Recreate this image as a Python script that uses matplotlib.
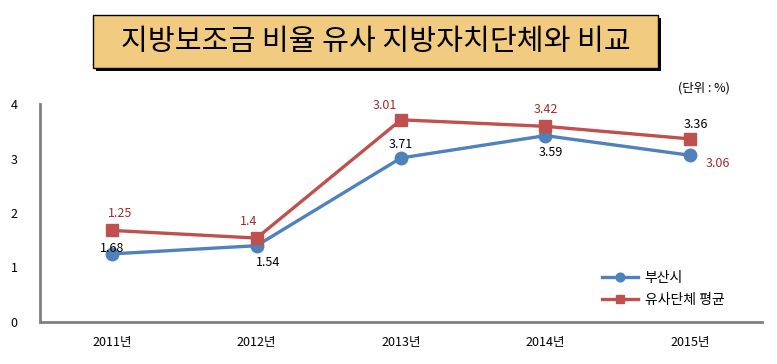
import matplotlib
matplotlib.use("Agg")
import matplotlib.pyplot as plt
from matplotlib.patches import Rectangle

plt.rcParams['font.family'] = ['Noto Sans CJK KR', 'DejaVu Sans']

# 데이터
years = ['2011년', '2012년', '2013년', '2014년', '2015년']
busan = [1.25, 1.40, 3.01, 3.42, 3.06]
similar_avg = [1.68, 1.54, 3.71, 3.59, 3.36]

# 원본 차트의 라벨 배치 (빨간 라벨은 부산시 값, 검은 라벨은 평균 값)
red_label_offsets = [(6, 12), (-6, 12), (-12, 10), (0, 12), (20, -6)]
black_label_offsets = [(0, 4), (8, -12), (0, 10), (4, -12), (4, 10)]

blue = '#4F81BD'
red = '#C0504D'

fig = plt.figure(figsize=(7.77, 3.64), dpi=100)
ax = fig.add_axes([40 / 777, 42 / 364, 722 / 777, 218 / 364])

x = list(range(len(years)))
ax.plot(x, busan, color=blue, lw=2.4, marker='o', markersize=9, label='부산시', zorder=3)
ax.plot(x, similar_avg, color=red, lw=2.4, marker='s', markersize=8, label='유사단체 평균', zorder=3)

for i in x:
    ax.annotate(f'{busan[i]:g}', (x[i], similar_avg[i]) if i < 4 else (x[i], busan[i]),
                xytext=red_label_offsets[i], textcoords='offset points',
                ha='center', va='center', fontsize=9, color='#A52A2A', zorder=4)
    ax.annotate(f'{similar_avg[i]:g}', (x[i], busan[i]) if i < 4 else (x[i], similar_avg[i]),
                xytext=black_label_offsets[i], textcoords='offset points',
                ha='center', va='center', fontsize=9, color='black', zorder=4)

ax.set_xlim(-0.5, 4.5)
ax.set_ylim(0, 4)
ax.set_yticks([0, 1, 2, 3, 4])
ax.set_xticks(x)
ax.set_xticklabels(years)
ax.tick_params(length=0, labelsize=9, pad=10)
ax.tick_params(axis='y', pad=16)
for side in ['top', 'right']:
    ax.spines[side].set_visible(False)
for side in ['left', 'bottom']:
    ax.spines[side].set_color('#808080')
    ax.spines[side].set_linewidth(2)

ax.legend(loc='lower right', bbox_to_anchor=(0.965, 0.01), frameon=False,
          fontsize=10, handlelength=2.6, handletextpad=0.5, labelspacing=0.6,
          markerscale=0.7)

# 제목 상자
shadow = Rectangle((96 / 777, 1 - 71 / 364), 565 / 777, 53 / 364,
                   transform=fig.transFigure, facecolor='black', edgecolor='none')
box = Rectangle((93 / 777, 1 - 68 / 364), 565 / 777, 53 / 364,
                transform=fig.transFigure, facecolor='#F1CB80', edgecolor='black', lw=1)
fig.patches.extend([shadow, box])
fig.text(375.5 / 777, 1 - 42 / 364, '지방보조금 비율 유사 지방자치단체와 비교',
         ha='center', va='center', fontsize=21)
fig.text(730 / 777, 1 - 88 / 364, '(단위 : %)', ha='right', va='center', fontsize=9)

fig.savefig('out.png', dpi=100)
